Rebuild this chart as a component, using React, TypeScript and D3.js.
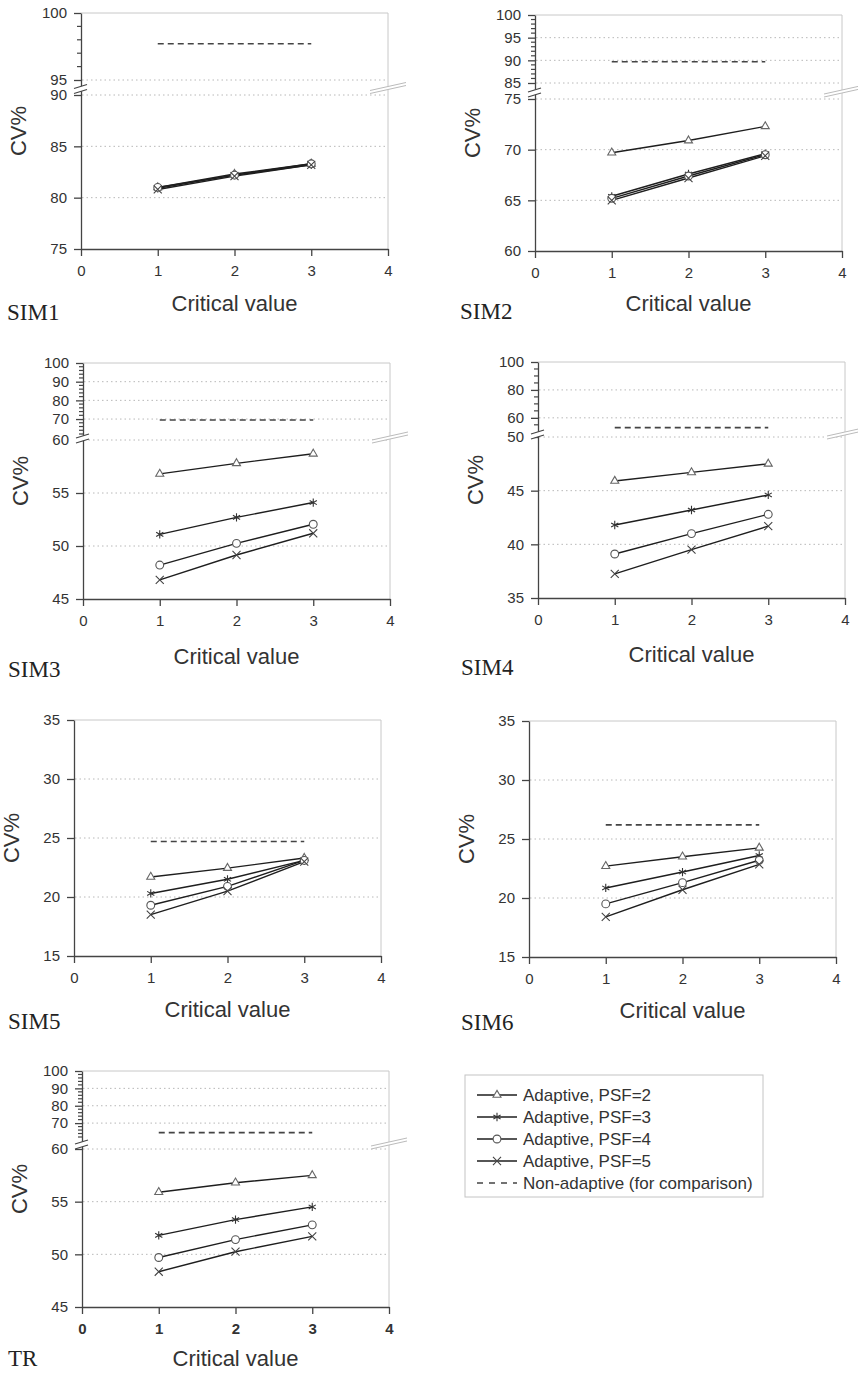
import React, { useEffect, useRef } from 'react';
import * as d3 from 'd3';

// x values shared by every panel
const criticalValues = [1, 2, 3];
const seriesLabels = ['Adaptive, PSF=2', 'Adaptive, PSF=3', 'Adaptive, PSF=4', 'Adaptive, PSF=5'];
const nonAdaptiveLabel = 'Non-adaptive (for comparison)';

// CV%, rows = PSF 2,3,4,5
const sim1 = [[81.0, 82.3, 83.3], [80.9, 82.2, 83.2], [81.0, 82.2, 83.3], [80.8, 82.1, 83.2]];
const sim2 = [[69.7, 70.9, 72.3], [65.4, 67.6, 69.6], [65.2, 67.4, 69.5], [65.0, 67.2, 69.4]];
const sim3 = [[56.8, 57.8, 58.7], [51.1, 52.7, 54.1], [48.2, 50.25, 52.05], [46.8, 49.15, 51.2]];
const sim4 = [[45.9, 46.7, 47.5], [41.8, 43.2, 44.6], [39.1, 41.0, 42.8], [37.25, 39.5, 41.7]];
const sim5 = [[21.7, 22.45, 23.3], [20.3, 21.5, 23.1], [19.3, 20.9, 23.1], [18.5, 20.5, 23.0]];
const sim6 = [[22.7, 23.5, 24.25], [20.85, 22.2, 23.6], [19.5, 21.3, 23.2], [18.4, 20.7, 22.85]];
const tr = [[55.9, 56.8, 57.5], [51.8, 53.3, 54.5], [49.7, 51.4, 52.8], [48.35, 50.25, 51.7]];

// non-adaptive reference level per panel
const nonAdaptive = [97.7, 89.7, 69.5, 53.0, 24.7, 26.2, 64.5];

// y tick labels
const sim1Ticks = [75, 80, 85, 90, 95, 100];
const sim2Ticks = [60, 65, 70, 75, 85, 90, 95, 100];
const sim3Ticks = [45, 50, 55, 60, 70, 80, 90, 100];
const sim4Ticks = [35, 40, 45, 50, 60, 80, 100];
const sim56Ticks = [15, 20, 25, 30, 35];
const trTicks = [45, 50, 55, 60, 70, 80, 90, 100];
const xTicks = [0, 1, 2, 3, 4];

const W = 307;
const H = 236;
const SANS = "'Liberation Sans', Arial, sans-serif";
const SERIF = "'Liberation Serif', 'Times New Roman', serif";

// layout: plot origin, broken-axis pieces (domain -> pixel offsets), label offsets
const panels = [
  { name: 'SIM1', data: sim1, ticks: sim1Ticks, x: 81, y: 13, domain: [75, 90, 95, 100], range: [H, 82, 67, 0], minor: 1, labelX: 7, labelDy: 71, titleDy: 54 },
  { name: 'SIM2', data: sim2, ticks: sim2Ticks, x: 535, y: 15, domain: [60, 75, 85, 100], range: [H, 84, 68, 0], minor: 1, labelX: 460, labelDy: 68, titleDy: 52 },
  { name: 'SIM3', data: sim3, ticks: sim3Ticks, x: 83, y: 363, domain: [45, 60, 62, 100], range: [H, 77, 71, 0], minor: 2, labelX: 8, labelDy: 78, titleDy: 57 },
  { name: 'SIM4', data: sim4, ticks: sim4Ticks, x: 538, y: 362, domain: [35, 50, 52, 100], range: [H, 75, 67, 0], minor: 5, labelX: 461, labelDy: 77, titleDy: 56 },
  { name: 'SIM5', data: sim5, ticks: sim56Ticks, x: 74, y: 720, domain: [15, 35], range: [H, 0], minor: 0, labelX: 8, labelDy: 73, titleDy: 53 },
  { name: 'SIM6', data: sim6, ticks: sim56Ticks, x: 529, y: 721, domain: [15, 35], range: [H, 0], minor: 0, labelX: 461, labelDy: 73, titleDy: 53 },
  { name: 'TR', data: tr, ticks: trTicks, x: 82, y: 1071, domain: [45, 60, 62, 100], range: [H, 78, 66, 0], minor: 2, labelX: 8, labelDy: 59, titleDy: 51, bold: true },
];

const symbolTypes = [
  d3.symbolTriangle2 || d3.symbolTriangle,
  d3.symbolAsterisk || d3.symbolCross,
  d3.symbolCircle,
  d3.symbolTimes || d3.symbolCross,
];
const markerFill = ['#fff', 'none', '#fff', 'none'];
const markerStroke = ['#666', '#333', '#555', '#444'];
const markerSize = [46, 48, 48, 44];

const markerPath = (i: number) => d3.symbol().type(symbolTypes[i]).size(markerSize[i])() as string;

const Panel = ({ p, idx }: { p: any; idx: number }) => {
  const ref = useRef<SVGGElement>(null);

  useEffect(() => {
    const g = d3.select(ref.current);
    g.selectAll('*').remove();

    const x = d3.scaleLinear().domain([0, 4]).range([0, W]);
    const y = d3.scaleLinear().domain(p.domain).range(p.range);

    // light frame top/right
    g.append('path')
      .attr('d', `M0,0H${W}V${H}`)
      .attr('fill', 'none')
      .attr('stroke', '#c8c8c8');

    // dotted gridlines
    g.selectAll('line.grid')
      .data(p.ticks.slice(1, -1))
      .enter()
      .append('line')
      .attr('class', 'grid')
      .attr('x1', 1)
      .attr('x2', W)
      .attr('y1', (d: number) => y(d))
      .attr('y2', (d: number) => y(d))
      .attr('stroke', '#b8b8b8')
      .attr('stroke-width', 1)
      .attr('stroke-dasharray', '1.5,3');

    // x axis
    const xa = g.append('g')
      .attr('transform', `translate(0,${H})`)
      .call(d3.axisBottom(x).tickValues(xTicks).tickSize(7).tickSizeOuter(0).tickPadding(9).tickFormat(d3.format('d')));
    xa.attr('font-family', SANS).attr('font-size', 15);
    xa.select('.domain').attr('stroke', '#444').attr('stroke-width', 1.3);
    xa.selectAll('.tick line').attr('stroke', '#444').attr('stroke-width', 1.3);
    xa.selectAll('.tick text').attr('fill', '#333').attr('font-weight', p.bold ? 'bold' : 'normal');

    // y axis
    const ya = g.append('g')
      .call(d3.axisLeft(y).tickValues(p.ticks).tickSize(7).tickSizeOuter(0).tickPadding(7).tickFormat(d3.format('d')));
    ya.attr('font-family', SANS).attr('font-size', 15);
    ya.select('.domain').attr('stroke', '#444').attr('stroke-width', 1.3);
    ya.selectAll('.tick line').attr('stroke', '#444').attr('stroke-width', 1.3);
    ya.selectAll('.tick text').attr('fill', '#333');

    // minor ticks on the upper piece of a broken axis
    if (p.minor) {
      const minors = d3.range(Math.ceil(p.domain[2] / p.minor) * p.minor, 100, p.minor)
        .filter((v: number) => !p.ticks.includes(v));
      g.selectAll('line.minor')
        .data(minors)
        .enter()
        .append('line')
        .attr('x1', -4)
        .attr('x2', 1)
        .attr('y1', (d: number) => y(d))
        .attr('y2', (d: number) => y(d))
        .attr('stroke', '#444')
        .attr('stroke-width', 1.2);
    }

    // axis break marks
    if (p.domain.length > 2) {
      const b = (p.range[1] + p.range[2]) / 2;
      g.append('path')
        .attr('d', `M-7,${b + 1}L6,${b - 3}L6,${b + 2}L-7,${b + 6}Z`)
        .attr('fill', '#fff');
      [0, 5].forEach((o) => {
        g.append('line')
          .attr('x1', -7).attr('y1', b + 1 + o)
          .attr('x2', 6).attr('y2', b - 3 + o)
          .attr('stroke', '#444').attr('stroke-width', 1.2);
      });
      g.append('path')
        .attr('d', `M${W - 18},${b + 3}L${W + 18},${b - 5}L${W + 18},${b - 2}L${W - 18},${b + 6}Z`)
        .attr('fill', '#fff');
      [0, 3].forEach((o) => {
        g.append('line')
          .attr('x1', W - 18).attr('y1', b + 3 + o)
          .attr('x2', W + 18).attr('y2', b - 5 + o)
          .attr('stroke', '#bbb').attr('stroke-width', 1);
      });
    }

    // non-adaptive dashed level
    g.append('line')
      .attr('x1', x(criticalValues[0]))
      .attr('x2', x(criticalValues[criticalValues.length - 1]))
      .attr('y1', y(nonAdaptive[idx]))
      .attr('y2', y(nonAdaptive[idx]))
      .attr('stroke', '#444')
      .attr('stroke-width', 1.6)
      .attr('stroke-dasharray', '6,4');

    // adaptive series
    const line = d3.line<number>()
      .x((_, i) => x(criticalValues[i]))
      .y((d) => y(d));

    p.data.forEach((s: number[]) => {
      g.append('path')
        .attr('d', line(s))
        .attr('fill', 'none')
        .attr('stroke', '#1e1e1e')
        .attr('stroke-width', 1.4);
    });
    p.data.forEach((s: number[], si: number) => {
      g.selectAll(`path.m${si}`)
        .data(s)
        .enter()
        .append('path')
        .attr('class', `m${si}`)
        .attr('d', markerPath(si))
        .attr('transform', (d: number, i: number) => `translate(${x(criticalValues[i])},${y(d)})`)
        .attr('fill', markerFill[si])
        .attr('stroke', markerStroke[si])
        .attr('stroke-width', 1.1);
    });

    // axis titles
    g.append('text')
      .attr('x', W / 2)
      .attr('y', H + p.titleDy)
      .attr('dy', '0.35em')
      .attr('text-anchor', 'middle')
      .attr('font-family', SANS)
      .attr('font-size', 22)
      .attr('fill', '#333')
      .text('Critical value');

    g.append('text')
      .attr('transform', `translate(-63,${H / 2}) rotate(-90)`)
      .attr('dy', '0.35em')
      .attr('text-anchor', 'middle')
      .attr('font-family', SANS)
      .attr('font-size', 22)
      .attr('fill', '#333')
      .text('CV%');

    g.append('text')
      .attr('x', p.labelX - p.x)
      .attr('y', H + p.labelDy)
      .attr('font-family', SERIF)
      .attr('font-size', 23)
      .attr('fill', '#222')
      .text(p.name);
  }, [p, idx]);

  return <g ref={ref} transform={`translate(${p.x},${p.y})`} />;
};

const Legend = () => {
  const lx = 465;
  const ly = 1075;
  const rowY = (i: number) => 20 + i * 22;
  return (
    <g transform={`translate(${lx},${ly})`}>
      <rect x={0} y={0} width={298} height={122} fill="#fff" stroke="#c4c4c4" />
      {seriesLabels.map((lab, i) => (
        <g key={lab} transform={`translate(0,${rowY(i)})`}>
          <line x1={12} x2={52} y1={0} y2={0} stroke="#1e1e1e" strokeWidth={1.4} />
          <path d={markerPath(i)} transform="translate(32,0)" fill={markerFill[i] === 'none' ? 'none' : '#fff'} stroke={markerStroke[i]} strokeWidth={1.1} />
          <text x={58} y={0} dy="0.35em" fontFamily={SANS} fontSize={17} fill="#333">{lab}</text>
        </g>
      ))}
      <g transform={`translate(0,${rowY(4)})`}>
        <line x1={12} x2={52} y1={0} y2={0} stroke="#444" strokeWidth={1.6} strokeDasharray="6,6" />
        <text x={58} y={0} dy="0.35em" fontFamily={SANS} fontSize={17} fill="#333">{nonAdaptiveLabel}</text>
      </g>
    </g>
  );
};

export default function App() {
  return (
    <svg
      width={858}
      height={1373}
      style={{ position: 'absolute', left: 0, top: 0, background: '#fff' }}
    >
      <rect width={858} height={1373} fill="#fff" />
      {panels.map((p, i) => (
        <Panel key={p.name} p={p} idx={i} />
      ))}
      <Legend />
    </svg>
  );
}
